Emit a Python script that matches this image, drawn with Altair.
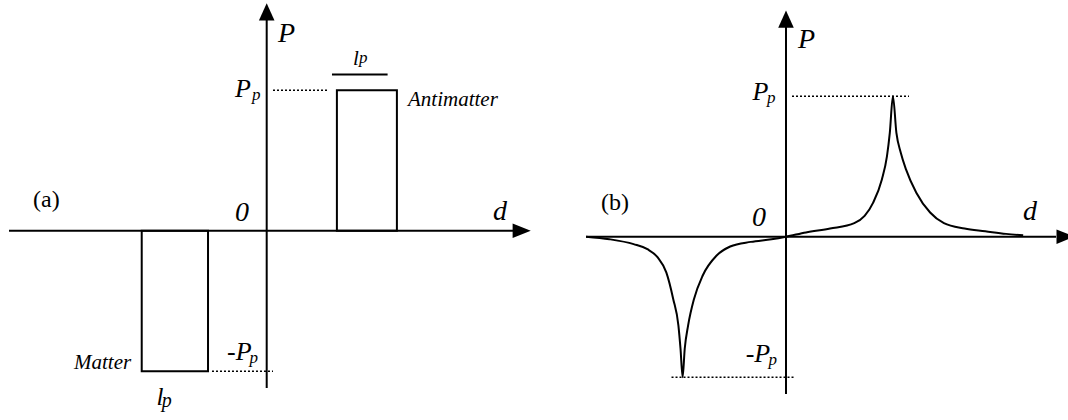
import altair as alt
import pandas as pd

# ---------------------------------------------------------------
# Values (d in arbitrary length units, P in units of the peak P_p)
# ---------------------------------------------------------------
P_PEAK = 1.0

# (a) rectangular polarisation profiles
matter_span = [-2.083, -0.978]       # d-range of the matter block
antimatter_span = [1.17, 2.17]       # d-range of the antimatter block
lp_bar_span = [1.088, 2.015]         # width marker above the antimatter block
lp_bar_level = 1.112

# (b) smooth polarisation profile
curve_d = [-3.333, -2.943, -2.54, -2.31, -2.138, -1.995, -1.88, -1.793, -1.758,
           -1.723, -1.688, -1.632, -1.533, -1.39, -1.16, -0.93, -0.587, -0.242,
           0.0, 0.333, 0.735, 1.138, 1.31, 1.453, 1.598, 1.683, 1.73, 1.782,
           1.84, 1.913, 2.0, 2.172, 2.402, 2.632, 2.977, 3.322, 3.667, 3.953]
curve_P = [0.0, -0.018, -0.053, -0.089, -0.148, -0.254, -0.443, -0.633, -0.798,
           -1.0, -0.798, -0.633, -0.443, -0.278, -0.136, -0.07, -0.037, -0.018,
           0.0, 0.03, 0.058, 0.096, 0.148, 0.243, 0.408, 0.574, 0.739, 1.0,
           0.739, 0.597, 0.479, 0.313, 0.172, 0.096, 0.058, 0.039, 0.02, 0.01]

SERIF = "'Liberation Serif', 'Times New Roman', Times, serif"
PANEL_W, PANEL_H = 534, 420

ARROW_UP = "M0,-1L0.9,1L-0.9,1Z"
ARROW_RIGHT = "M1,0L-1,0.8L-1,-0.8Z"


def make_panel(xdom, ydom, ax, content, labels):
    """ax: dict with axis extents; content: callables building extra layers."""
    def X(f):
        return alt.X(f, type="quantitative", axis=None,
                     scale=alt.Scale(domain=xdom, nice=False, zero=False))

    def Y(f):
        return alt.Y(f, type="quantitative", axis=None,
                     scale=alt.Scale(domain=ydom, nice=False, zero=False))

    axes = pd.DataFrame({
        "x": [ax["x_from"], 0.0],
        "x2": [ax["x_to"], 0.0],
        "y": [0.0, ax["y_from"]],
        "y2": [0.0, ax["y_to"]],
    })
    axis_rules = alt.Chart(axes).mark_rule(color="black", strokeWidth=2).encode(
        x=X("x"), x2=alt.X2("x2"), y=Y("y"), y2=alt.Y2("y2"))

    # the horizontal arrowhead is clipped to the panel so it never widens the page
    head_x = alt.Chart(pd.DataFrame({"x": [ax["x_head"]], "y": [0.0]})).mark_point(
        shape=ARROW_RIGHT, filled=True, size=330, color="black", opacity=1,
        strokeWidth=0, clip=True
    ).encode(x=X("x"), y=Y("y"))
    head_y = alt.Chart(pd.DataFrame({"x": [0.0], "y": [ax["y_head"]]})).mark_point(
        shape=ARROW_UP, filled=True, size=300, color="black", opacity=1, strokeWidth=0
    ).encode(x=X("x"), y=Y("y"))

    layers = [axis_rules, head_x, head_y] + [c(X, Y) for c in content]

    lab = pd.DataFrame(labels, columns=["x", "y", "t", "fs", "style"])
    for style in ["italic", "normal"]:
        sub = lab[lab["style"] == style]
        if len(sub):
            layers.append(
                alt.Chart(sub).mark_text(font=SERIF, fontStyle=style, align="left",
                                         baseline="alphabetic", color="black").encode(
                    x=X("x"), y=Y("y"), text="t:N",
                    size=alt.Size("fs:Q", scale=None, legend=None))
            )
    return alt.layer(*layers).properties(width=PANEL_W, height=PANEL_H)


def dotted(rows):
    df = pd.DataFrame(rows, columns=["x", "x2", "y"])

    def build(X, Y):
        return alt.Chart(df).mark_rule(color="black", strokeWidth=1.5,
                                       strokeDash=[2, 2]).encode(
            x=X("x"), x2=alt.X2("x2"), y=Y("y"))
    return build


# ---------------- panel (a) ----------------
blocks = pd.DataFrame({
    "x": [matter_span[0], antimatter_span[0]],
    "x2": [matter_span[1], antimatter_span[1]],
    "y": [0.0, 0.0],
    "y2": [-P_PEAK, P_PEAK],
})


def blocks_layer(X, Y):
    return alt.Chart(blocks).mark_rect(filled=False, color="black", strokeWidth=2).encode(
        x=X("x"), x2=alt.X2("x2"), y=Y("y"), y2=alt.Y2("y2"))


def lp_bar_layer(X, Y):
    df = pd.DataFrame({"x": [lp_bar_span[0]], "x2": [lp_bar_span[1]], "y": [lp_bar_level]})
    return alt.Chart(df).mark_rule(color="black", strokeWidth=2).encode(
        x=X("x"), x2=alt.X2("x2"), y=Y("y"))


labels_a = [
    (0.19, 1.343, "P", 28, "italic"),
    (-0.53, 0.952, "P", 26, "italic"),
    (-0.245, 0.93, "p", 17, "italic"),
    (-0.662, -0.92, "-P", 26, "italic"),
    (-0.285, -0.942, "p", 17, "italic"),
    (-0.528, 0.069, "0", 28, "italic"),
    (3.77, 0.076, "d", 28, "italic"),
    (-3.895, 0.169, "(a)", 24, "normal"),
    (2.355, 0.887, "Antimatter", 21, "italic"),
    (-3.212, -0.984, "Matter", 21, "italic"),
    (-1.838, -1.24, "l", 25, "italic"),
    (-1.75, -1.255, "p", 20, "italic"),
    (1.438, 1.179, "l", 21, "italic"),
    (1.538, 1.194, "p", 17, "italic"),
]

panel_a = make_panel(
    [-4.445, 4.455], [-1.347, 1.642],
    dict(x_from=-4.295, x_to=4.105, x_head=4.25, y_from=-1.12, y_to=1.507, y_head=1.557),
    [blocks_layer, lp_bar_layer,
     dotted([(0.105, 1.038, P_PEAK), (-0.912, 0.105, -P_PEAK)])],
    labels_a,
)

# ---------------- panel (b) ----------------
curve = pd.DataFrame({"d": curve_d, "P": curve_P, "i": list(range(len(curve_d)))})


def curve_layer(X, Y):
    return alt.Chart(curve).mark_line(color="black", strokeWidth=2,
                                      interpolate="monotone").encode(
        x=X("d"), y=Y("P"), order="i:Q")


labels_b = [
    (0.2, 1.343, "P", 28, "italic"),
    (-0.557, 0.973, "P", 26, "italic"),
    (-0.317, 0.951, "p", 17, "italic"),
    (-0.672, -0.892, "-P", 26, "italic"),
    (-0.29, -0.913, "p", 17, "italic"),
    (-0.567, 0.076, "0", 28, "italic"),
    (3.95, 0.119, "d", 28, "italic"),
    (-3.083, 0.19, "(b)", 24, "normal"),
]

panel_b = make_panel(
    [-4.2, 4.7], [-1.305, 1.685],
    dict(x_from=-3.333, x_to=4.5, x_head=4.66, y_from=-1.12, y_to=1.507, y_head=1.549),
    [curve_layer,
     dotted([(0.1, 2.05, P_PEAK), (-1.908, 0.133, -P_PEAK)])],
    labels_b,
)

chart = alt.hconcat(panel_a, panel_b, spacing=0).properties(
    padding=0,
    background="white",
).configure_view(stroke=None)

chart.save("out.html", embed_options={"renderer": "svg", "actions": False})
